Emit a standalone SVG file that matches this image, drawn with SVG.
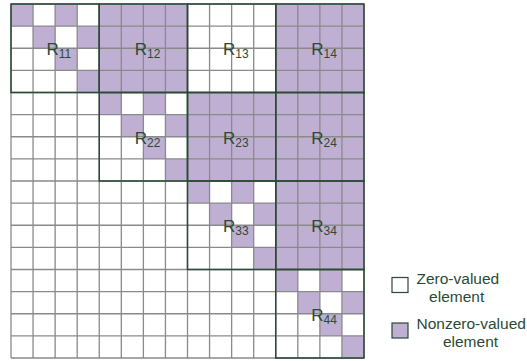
<svg xmlns="http://www.w3.org/2000/svg" width="527" height="361" viewBox="0 0 527 361">
<style>
.nz{fill:#bfb0d3;}
.grid{fill:none;stroke:#8a8a8a;stroke-width:1.3;}
.blk{fill:none;stroke:#2b4a36;stroke-width:1.5;}
.lbl{font-family:"Liberation Sans",Arial,sans-serif;font-size:17px;fill:#2b4a36;}
.sub{font-size:12px;}
.leg{font-family:"Liberation Sans",Arial,sans-serif;font-size:15.5px;fill:#2b4a36;}
.sw{stroke:#2b4a36;stroke-width:1.2;}
</style>
<rect x="0" y="0" width="527" height="361" fill="#ffffff"/>
<g id="cells">
<rect class="nz" x="99.25" y="4" width="88.25" height="88.5"/>
<rect class="nz" x="275.75" y="4" width="88.25" height="88.5"/>
<rect class="nz" x="187.5" y="92.5" width="88.25" height="88.5"/>
<rect class="nz" x="275.75" y="92.5" width="88.25" height="88.5"/>
<rect class="nz" x="275.75" y="181" width="88.25" height="88.5"/>
<rect class="nz" x="11" y="4" width="22.06" height="22.13"/>
<rect class="nz" x="55.13" y="4" width="22.06" height="22.13"/>
<rect class="nz" x="33.06" y="26.13" width="22.06" height="22.13"/>
<rect class="nz" x="77.19" y="26.13" width="22.06" height="22.13"/>
<rect class="nz" x="55.13" y="48.25" width="22.06" height="22.13"/>
<rect class="nz" x="77.19" y="70.38" width="22.06" height="22.13"/>
<rect class="nz" x="99.25" y="92.5" width="22.06" height="22.13"/>
<rect class="nz" x="143.38" y="92.5" width="22.06" height="22.13"/>
<rect class="nz" x="121.31" y="114.63" width="22.06" height="22.13"/>
<rect class="nz" x="165.44" y="114.63" width="22.06" height="22.13"/>
<rect class="nz" x="143.38" y="136.75" width="22.06" height="22.13"/>
<rect class="nz" x="165.44" y="158.88" width="22.06" height="22.13"/>
<rect class="nz" x="187.5" y="181" width="22.06" height="22.13"/>
<rect class="nz" x="231.63" y="181" width="22.06" height="22.13"/>
<rect class="nz" x="209.56" y="203.13" width="22.06" height="22.13"/>
<rect class="nz" x="253.69" y="203.13" width="22.06" height="22.13"/>
<rect class="nz" x="231.63" y="225.25" width="22.06" height="22.13"/>
<rect class="nz" x="253.69" y="247.38" width="22.06" height="22.13"/>
<rect class="nz" x="275.75" y="269.5" width="22.06" height="22.13"/>
<rect class="nz" x="319.88" y="269.5" width="22.06" height="22.13"/>
<rect class="nz" x="297.81" y="291.63" width="22.06" height="22.13"/>
<rect class="nz" x="341.94" y="291.63" width="22.06" height="22.13"/>
<rect class="nz" x="319.88" y="313.75" width="22.06" height="22.13"/>
<rect class="nz" x="341.94" y="335.88" width="22.06" height="22.13"/>
</g>
<g id="connectors">
<path class="grid" d="M11 4V358M33.06 4V358M55.13 4V358M77.19 4V358M99.25 4V358M121.31 4V358M143.38 4V358M165.44 4V358M187.5 4V358M209.56 4V358M231.63 4V358M253.69 4V358M275.75 4V358M297.81 4V358M319.88 4V358M341.94 4V358M364 4V358M11 4H364M11 26.13H364M11 48.25H364M11 70.38H364M11 92.5H364M11 114.63H364M11 136.75H364M11 158.88H364M11 181H364M11 203.13H364M11 225.25H364M11 247.38H364M11 269.5H364M11 291.63H364M11 313.75H364M11 335.88H364M11 358H364"/>
</g>
<g id="R11"><rect class="blk" x="11" y="4" width="88.25" height="88.5"/><text class="lbl" x="46.5" y="55">R<tspan class="sub" dy="3">11</tspan></text></g>
<g id="R12"><rect class="blk" x="99.25" y="4" width="88.25" height="88.5"/><text class="lbl" x="134.8" y="55">R<tspan class="sub" dy="3">12</tspan></text></g>
<g id="R13"><rect class="blk" x="187.5" y="4" width="88.25" height="88.5"/><text class="lbl" x="223" y="55">R<tspan class="sub" dy="3">13</tspan></text></g>
<g id="R14"><rect class="blk" x="275.75" y="4" width="88.25" height="88.5"/><text class="lbl" x="311.3" y="55">R<tspan class="sub" dy="3">14</tspan></text></g>
<g id="R22"><rect class="blk" x="99.25" y="92.5" width="88.25" height="88.5"/><text class="lbl" x="134.8" y="143.5">R<tspan class="sub" dy="3">22</tspan></text></g>
<g id="R23"><rect class="blk" x="187.5" y="92.5" width="88.25" height="88.5"/><text class="lbl" x="223" y="143.5">R<tspan class="sub" dy="3">23</tspan></text></g>
<g id="R24"><rect class="blk" x="275.75" y="92.5" width="88.25" height="88.5"/><text class="lbl" x="311.3" y="143.5">R<tspan class="sub" dy="3">24</tspan></text></g>
<g id="R33"><rect class="blk" x="187.5" y="181" width="88.25" height="88.5"/><text class="lbl" x="223" y="232">R<tspan class="sub" dy="3">33</tspan></text></g>
<g id="R34"><rect class="blk" x="275.75" y="181" width="88.25" height="88.5"/><text class="lbl" x="311.3" y="232">R<tspan class="sub" dy="3">34</tspan></text></g>
<g id="R44"><rect class="blk" x="275.75" y="269.5" width="88.25" height="88.5"/><text class="lbl" x="311.3" y="320.5">R<tspan class="sub" dy="3">44</tspan></text></g>
<g id="legend-zero"><rect class="sw" x="392" y="277.5" width="16" height="15" fill="#ffffff"/><text class="leg" x="416.5" y="283.5">Zero-valued</text><text class="leg" x="456.7" y="302" text-anchor="middle">element</text></g>
<g id="legend-nonzero"><rect class="sw nz" x="392" y="323" width="16" height="15"/><text class="leg" x="416.5" y="329">Nonzero-valued</text><text class="leg" x="470.5" y="347" text-anchor="middle">element</text></g>
</svg>
